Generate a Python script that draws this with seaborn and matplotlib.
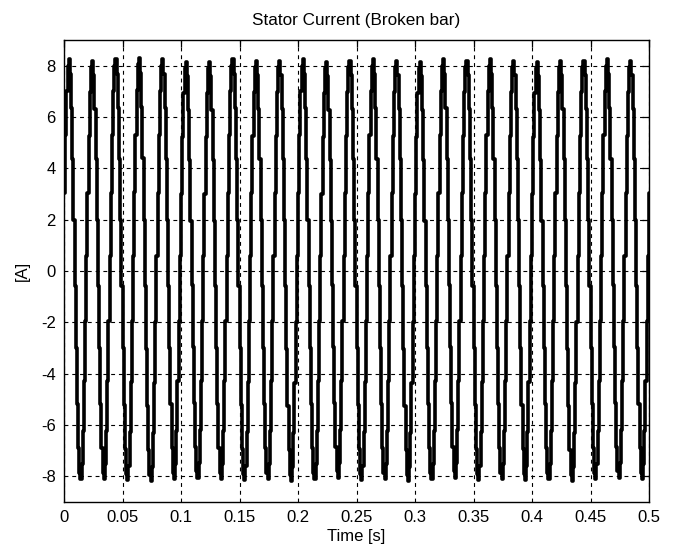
import numpy as np
import pandas as pd
import matplotlib
matplotlib.use("Agg")
import matplotlib.pyplot as plt
import seaborn as sns

# ---- data ----
sample_period = 0.001  # s, one step of the held signal
# normalised shape of one 50 Hz cycle (20 held samples), starting at t = 0
cycle_shape = [0.37, 0.64, 0.85, 0.97, 1.00, 0.93, 0.77, 0.53, 0.24, -0.07,
               -0.37, -0.64, -0.85, -0.97, -1.00, -0.93, -0.77, -0.53, -0.24, 0.07]
# positive peak and negative trough of each of the 25 cycles [A]
cycle_peaks = [8.25, 8.20, 8.25, 8.30, 8.25, 8.15, 8.15, 8.25, 8.20, 8.20,
               8.25, 8.15, 8.20, 8.25, 8.20, 8.15, 8.25, 8.20, 8.25, 8.20,
               8.15, 8.20, 8.20, 8.25, 8.20]
cycle_troughs = [-8.10, -8.10, -8.15, -8.20, -8.10, -8.05, -8.10, -8.15, -8.10, -8.20,
                 -8.10, -8.05, -8.15, -8.10, -8.20, -8.10, -8.05, -8.15, -8.10, -8.15,
                 -8.10, -8.20, -8.10, -8.05, -8.10]
x_ticks = [0, 0.05, 0.1, 0.15, 0.2, 0.25, 0.3, 0.35, 0.4, 0.45, 0.5]
x_tick_labels = ["0", "0.05", "0.1", "0.15", "0.2", "0.25", "0.3", "0.35", "0.4", "0.45", "0.5"]
y_ticks = [-8, -6, -4, -2, 0, 2, 4, 6, 8]
y_tick_labels = ["-8", "-6", "-4", "-2", "0", "2", "4", "6", "8"]
title = "Stator Current (Broken bar)"
x_label = "Time [s]"
y_label = "[A]"

# assemble the held samples from the read cycle shape and per-cycle extremes
values = []
for pk, tr in zip(cycle_peaks, cycle_troughs):
    for s in cycle_shape:
        values.append(s * pk if s >= 0 else -s * tr)
values.append(cycle_shape[0] * cycle_peaks[-1])
times = [i * sample_period for i in range(len(values))]
df = pd.DataFrame({"time": times, "current": values})

# ---- style ----
sns.set_theme(style="white")
plt.rcParams["font.family"] = ["Liberation Sans", "DejaVu Sans"]
plt.rcParams["xtick.direction"] = "in"
plt.rcParams["ytick.direction"] = "in"

fig = plt.figure(figsize=(6.76, 5.49), dpi=100)
ax = fig.add_axes([64 / 676, 1 - 502 / 549, (649 - 64) / 676, (502 - 40) / 549])

sns.lineplot(data=df, x="time", y="current", ax=ax, color="black",
             linewidth=2.6, estimator=None, sort=False, drawstyle="steps-post")

ax.set_xlim(0, 0.5)
ax.set_ylim(-9, 9)
ax.set_xticks(x_ticks)
ax.set_xticklabels(x_tick_labels)
ax.set_yticks(y_ticks)
ax.set_yticklabels(y_tick_labels)

ax.grid(True, color="black", linestyle=(0, (3.5, 3.5)), linewidth=0.8)
ax.set_axisbelow(True)

ax.tick_params(axis="both", which="both", direction="in", length=5, width=0.9,
               top=True, right=True, labelsize=12, colors="black", pad=6)
for sp in ax.spines.values():
    sp.set_visible(True)
    sp.set_color("black")
    sp.set_linewidth(1.0)

ax.set_title(title, fontsize=12.3, color="black", pad=11)
ax.set_xlabel(x_label, fontsize=12, color="black", labelpad=3)
ax.set_ylabel(y_label, fontsize=12, color="black", labelpad=8)

fig.savefig("out.png", dpi=100)
